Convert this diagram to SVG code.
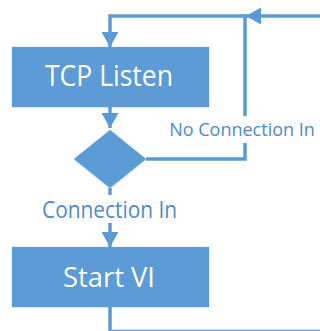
<svg xmlns="http://www.w3.org/2000/svg" width="320" height="331" viewBox="0 0 320 331">
<style>
.box{fill:#5B9BD5;filter:url(#sh)}
.btxt{fill:#fff;font-family:"Open Sans",sans-serif;text-anchor:middle}
.ltxt{fill:#4D8DCB;font-family:"Open Sans",sans-serif;text-anchor:middle}
.conn{fill:none;stroke:#5B9BD5;stroke-width:3.5}
</style>
<defs>
<filter id="sh" x="-10%" y="-20%" width="120%" height="140%">
<feDropShadow dx="0" dy="0.5" stdDeviation="1.2" flood-color="#5B9BD5" flood-opacity="0.45"/>
</filter>
<marker id="ar" markerUnits="userSpaceOnUse" markerWidth="16" markerHeight="18" refX="15" refY="8.5" orient="auto">
<path d="M0,0 L15,8.5 L0,17 Z" fill="#5B9BD5"/>
</marker>
</defs>
<rect width="320" height="331" fill="#fff"/>
<g id="connectors">
<path class="conn" d="M110,107 V128" marker-end="url(#ar)"/>
<path class="conn" d="M110,188 V247" marker-end="url(#ar)"/>
<path class="conn" d="M146,159 H245 V16 H110 V47" marker-end="url(#ar)"/>
<path class="conn" d="M110,307 V331.5 H335 V16 H246" marker-end="url(#ar)"/>
<rect x="168" y="116" width="151" height="27" fill="#fff"/>
<text class="ltxt" x="242" y="136" font-size="18">No Connection In</text>
<rect x="38" y="195" width="144" height="28" fill="#fff"/>
<text class="ltxt" x="109.5" y="218" font-size="23" textLength="135" lengthAdjust="spacingAndGlyphs">Connection In</text>
</g>
<g id="tcp-listen">
<rect class="box" x="12" y="47" width="197" height="60"/>
<text class="btxt" x="109" y="86" font-size="29" textLength="128" lengthAdjust="spacingAndGlyphs">TCP Listen</text>
</g>
<g id="decision">
<polygon class="box" points="110,130 146,159 110,188 74,159"/>
</g>
<g id="start-vi">
<rect class="box" x="12" y="247" width="197" height="60"/>
<text class="btxt" x="109" y="287" font-size="28" textLength="92" lengthAdjust="spacingAndGlyphs">Start VI</text>
</g>
</svg>
